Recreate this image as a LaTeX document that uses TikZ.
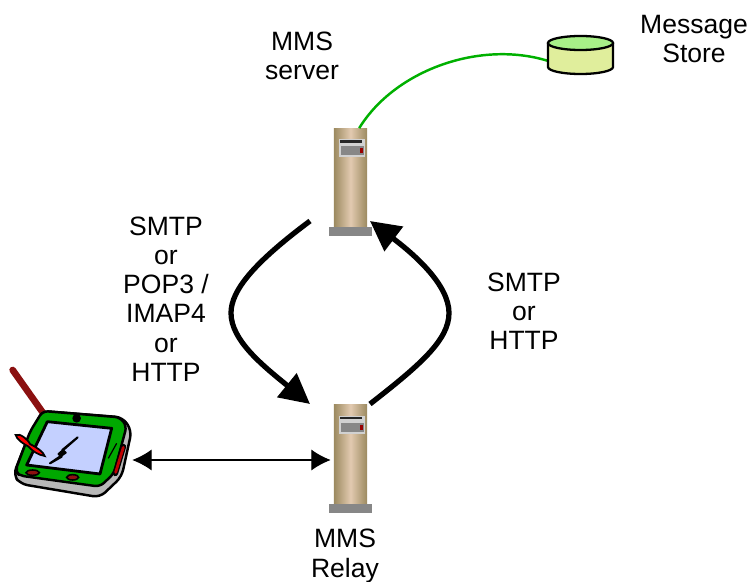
\documentclass[tikz,border=0pt]{standalone}
\usepackage{fontspec}
\setmainfont{Liberation Sans}
\usetikzlibrary{arrows.meta,positioning}
\definecolor{towerdark}{HTML}{9C8A60}
\definecolor{towerlight}{HTML}{E2CAB0}
\definecolor{storeside}{HTML}{E0EE9C}
\definecolor{storetop}{HTML}{A8F088}
\definecolor{linkgreen}{HTML}{00B000}
\definecolor{penred}{HTML}{8B1010}
\definecolor{screenblue}{HTML}{C4D0FF}
\definecolor{devgreen}{HTML}{00A800}
\tikzset{
  label/.style={align=center,font=\fontsize{15.1pt}{16.6pt}\selectfont,inner sep=0pt},
  towerbody/.style={minimum width=18.8pt,minimum height=55.8pt,inner sep=0pt,left color=towerdark,right color=towerdark,middle color=towerlight},
  towerbase/.style={minimum width=25pt,minimum height=5.1pt,inner sep=0pt,fill=black!47},
  thickarrow/.style={line width=3pt,-{Triangle[length=17pt,width=17pt]}},
  devline/.style={draw=black,line width=1.4pt,line join=round}
}
\newcommand{\tower}[3]{
  \node[towerbody] (#1) at (#2,#3) {};
  \node[towerbase,below=0pt of #1] (#1base) {};
  \fill[black!18] (#2-11.5,#3-38.5) rectangle (#2+14.5,#3-20.5);
  \fill[black!47] (#2-9.5,#3-31.5) rectangle (#2+13.5,#3-22.5);
  \fill[black!85] (#2-10.5,#3-37.5) rectangle (#2+11.5,#3-35);
  \fill[red!60!black] (#2+9.5,#3-29.5) rectangle (#2+12.5,#3-24.5);
}
\begin{document}
\begin{tikzpicture}[x=0.02cm,y=-0.02cm]
  \useasboundingbox (0,0) rectangle (753,581);
  % towers
  \tower{server}{350.5}{177.5}
  \tower{relay}{350.5}{454}
  % message store
  \node[minimum width=37pt,minimum height=22pt,inner sep=0pt] (store) at (580.5,55) {};
  \draw[linkgreen,line width=1.4pt] (server.80) .. controls (395,70) and (480,40) .. (store.190);
  \draw[fill=storeside,line width=1.3pt] (548,43) -- (548,67) arc[start angle=180,end angle=360,x radius=32.5,y radius=-7] -- (613,43);
  \draw[fill=storetop,line width=1.3pt] (580.5,43) ellipse [x radius=32.5,y radius=7];
  % device
  \node[minimum width=70.5pt,minimum height=50pt,inner sep=0pt] (device) at (70,460) {};
  \begin{scope}[shift={(0,360)},x=0.00667cm,y=-0.00667cm]
    \draw[penred,line width=3.8pt,line cap=round] (38,30) -- (130,160);
    \draw[devline,fill=black!28,rounded corners=4pt] (128,153) -- (368,172) -- (395,212) -- (365,350) -- (300,412) -- (62,372) -- (40,345) -- (75,255) -- cycle;
    \draw[devline,fill=devgreen,rounded corners=3pt] (128,153) -- (360,172) -- (380,198) -- (342,340) -- (300,380) -- (60,347) -- (45,335) -- (90,215) -- cycle;
    \draw[line width=1.6pt,fill=screenblue,line join=round] (142,185) -- (335,205) -- (300,342) -- (80,315) -- cycle;
    \fill (230,175) circle (13);
    \draw[line width=0.9pt,fill=penred] (98,338) ellipse [x radius=20,y radius=8];
    \draw[line width=0.9pt,fill=penred] (218,352) ellipse [x radius=18,y radius=8];
    \draw[line width=0.7pt] (350,250) -- (325,295);
    \draw[line width=3.2pt,black,line cap=round] (370,260) -- (346,340);
    \draw[line width=1.6pt,red!75!black,line cap=round] (370,262) -- (347,337);
    \draw[line width=1pt,fill=red] (47,225) .. controls (60,218) and (85,240) .. (90,252) .. controls (110,262) and (130,275) .. (134,288) .. controls (115,285) and (95,272) .. (86,260) .. controls (70,252) and (50,238) .. (47,225) -- cycle;
    \draw[line width=1.2pt,fill=black,line join=round] (233,232) -- (187,270) -- (197,278) -- (150,310) -- (185,290) -- (176,282) -- cycle;
  \end{scope}
  % arrows
  \coordinate (pullstart) at (310,221);
  \coordinate (pullend) at (310,404);
  \coordinate (pushstart) at (370,404);
  \coordinate (pushend) at (370,221);
  \draw[thickarrow] (pullstart) .. controls (255,262) and (231,290) .. (231,313) .. controls (231,340) and (262,365) .. (pullend);
  \draw[thickarrow] (pushstart) .. controls (420,365) and (449,340) .. (449,313) .. controls (449,285) and (415,255) .. (pushend);
  \draw[{Latex[length=11pt,width=12pt]}-{Latex[length=11pt,width=12pt]},line width=0.6pt,shorten >=1.7pt] (device.east) -- (device.east -| relay.west);
  % labels
  \node[label] (serverlabel) at (302,56) {MMS\\server};
  \node[label] (storelabel) at (694,39) {Message\\Store};
  \node[label] (pulllabel) at (166,299) {SMTP\\or\\POP3 /\\IMAP4\\or\\HTTP};
  \node[label] (pushlabel) at (524,311) {SMTP\\or\\HTTP};
  \node[label] (relaylabel) at (345,556) {MMS\\Relay};
\end{tikzpicture}
\end{document}
